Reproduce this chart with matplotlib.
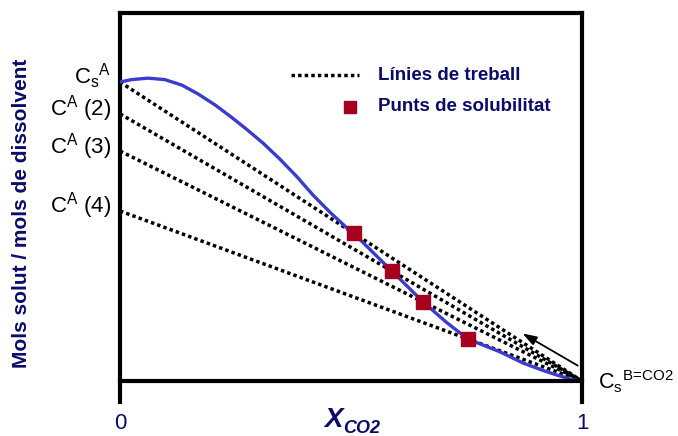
import matplotlib

matplotlib.use("Agg")

import matplotlib.pyplot as plt
import numpy as np

plt.rcParams["font.family"] = ["Liberation Sans", "DejaVu Sans"]
plt.rcParams["mathtext.fontset"] = "custom"
plt.rcParams["mathtext.rm"] = "Liberation Sans"
plt.rcParams["mathtext.it"] = "Liberation Sans:italic"
plt.rcParams["mathtext.bf"] = "Liberation Sans:bold"

NAVY = "#0b0b6b"
BLUE = "#3b3bcf"
RED = "#a6001f"

# solubility curve (mole fraction CO2 vs mols solute / mols solvent)
curve_x = [0.0, 0.025, 0.061, 0.097, 0.134, 0.169, 0.206, 0.242, 0.274,
           0.310, 0.346, 0.383, 0.418, 0.455, 0.491, 0.506, 0.589, 0.656,
           0.706, 0.753, 0.823, 0.872, 0.915, 0.946, 0.981, 1.0]
curve_y = [0.8125, 0.819, 0.823, 0.819, 0.804, 0.780, 0.750, 0.716, 0.684,
           0.646, 0.603, 0.555, 0.505, 0.458, 0.416, 0.401, 0.298, 0.215,
           0.160, 0.114, 0.079, 0.049, 0.029, 0.016, 0.003, 0.0]

# working lines: start concentration at x=0, all end at (1, 0)
line_start = [0.8125, 0.726, 0.625, 0.462]
line_labels = [r"C$_\mathrm{s}$$^\mathrm{A}$", r"C$^\mathrm{A}$ (2)",
               r"C$^\mathrm{A}$ (3)", r"C$^\mathrm{A}$ (4)"]

# solubility points
pts_x = [0.506, 0.589, 0.656, 0.753]
pts_y = [0.401, 0.298, 0.215, 0.114]

fig = plt.figure(figsize=(6.78, 4.36), dpi=100)
ax = fig.add_axes([120 / 678, 34 / 436, 462 / 678, 389 / 436])
ax.set_xlim(0, 1)
ax.set_ylim(-21 / 368, 1.0)

dots = (0, (1, 0.9))
for c in line_start:
    ax.plot([0, 1], [c, 0], color="black", lw=2.5, linestyle=dots, zorder=2)

ax.plot(curve_x, curve_y, color=BLUE, lw=2.4, zorder=3,
        solid_joinstyle="round", solid_capstyle="round")
ax.plot(pts_x, pts_y, linestyle="none", marker="s", ms=10, color=RED,
        mec=RED, zorder=4)

ax.axhline(0, color="black", lw=3, zorder=5, clip_on=False)

ax.annotate("", xy=(0.866, 0.133), xytext=(0.996, 0.038),
            arrowprops=dict(arrowstyle="-|>,head_length=0.6,head_width=0.2",
                            color="black", lw=1.3, mutation_scale=14),
            zorder=6)

for c, lab in zip(line_start, line_labels):
    ax.text(-0.02, c - 2 / 368, lab, ha="right", va="baseline", fontsize=16,
            color="black", clip_on=False)

ax.text(1.035, -8 / 368, r"C$_\mathrm{s}$$^\mathrm{B\!=\!CO2}$", ha="left",
        va="baseline", fontsize=15.5, color="black", clip_on=False)

# legend drawn by hand
ax.plot([0.370, 0.517], [0.8315, 0.8315], color="black", lw=2.5,
        linestyle=dots)
ax.plot([0.498], [0.745], linestyle="none", marker="s", ms=8.5, color=RED)
ax.text(0.558, 0.8315, "Línies de treball", ha="left", va="center",
        fontsize=13.5, fontweight="bold", color=NAVY)
ax.text(0.558, 0.745, "Punts de solubilitat", ha="left", va="center",
        fontsize=13.5, fontweight="bold", color=NAVY)

for side in ["left", "right", "top"]:
    ax.spines[side].set_linewidth(3)
ax.spines["bottom"].set_visible(False)

ax.set_yticks([])
ax.set_xticks([0, 1])
ax.set_xticklabels(["0", "1"], fontsize=16, color=NAVY)
ax.tick_params(axis="x", length=0, pad=8)

ax.text(0.483, -0.106, "X", ha="right", va="center", fontsize=20,
        fontweight="bold", style="italic", color=NAVY, clip_on=False)
ax.text(0.483, -0.128, "CO2", ha="left", va="center", fontsize=13,
        fontweight="bold", style="italic", color=NAVY, clip_on=False)

fig.text(22 / 678, 1 - 213 / 436, "Mols solut / mols de dissolvent",
         rotation=90, ha="center", va="center", fontsize=15,
         fontweight="bold", color=NAVY)

fig.savefig("out.png", dpi=100)
